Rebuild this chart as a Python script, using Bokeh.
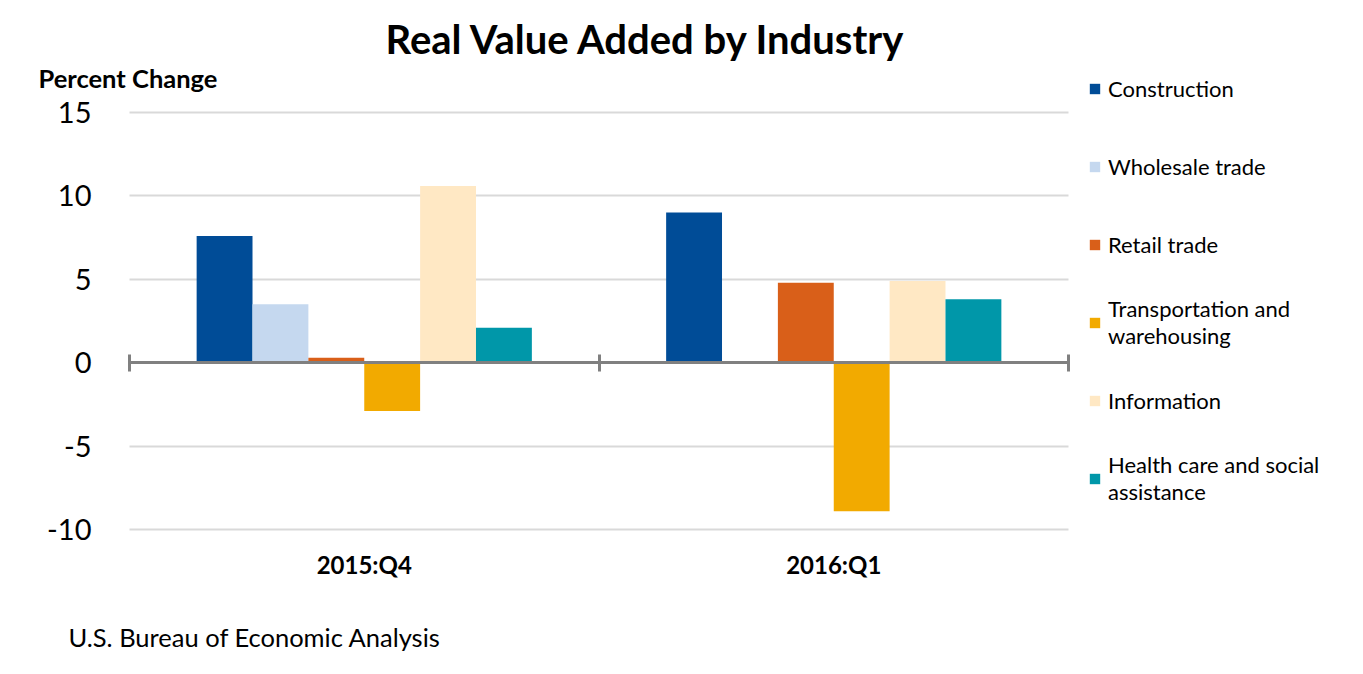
from bokeh.plotting import figure
from bokeh.models import (Range1d, LinearAxis, FixedTicker, Legend, Label, Grid)
from bokeh.transform import dodge
from bokeh.embed import file_html
from bokeh.resources import INLINE

# ---- data ----
quarters = ["2015:Q4", "2016:Q1"]
industries = ["Construction", "Wholesale trade", "Retail trade",
              "Transportation and\nwarehousing", "Information",
              "Health care and social\nassistance"]
construction = [7.6, 9.0]
wholesale_trade = [3.5, 0.0]
retail_trade = [0.3, 4.8]
transportation = [-2.9, -8.9]
information = [10.6, 4.9]
health_care = [2.1, 3.8]
y_ticks = [-10, -5, 0, 5, 10, 15]
y_tick_labels = ["-10", "-5", "0", "5", "10", "15"]

series = [construction, wholesale_trade, retail_trade, transportation, information, health_care]
colors = ["#004C97", "#C5D8EF", "#D95F19", "#F2AA00", "#FFE8C4", "#0097A9"]

FONT = "Lato"
W, H = 1363, 674

# plot-area geometry (pixels from the top-left of the page)
area_left, area_right, area_top, area_bottom = 129, 1068, 112, 529
y_min, y_max = y_ticks[0], y_ticks[-1]
n_cat = len(quarters)
px_per_x = (area_right - area_left) / n_cat
px_per_y = (area_bottom - area_top) / (y_max - y_min)

# the frame covers the whole page so that legend and texts are not clipped
x_range = Range1d(-area_left / px_per_x, n_cat + (W - area_right) / px_per_x)
y_range = Range1d(y_min - (H - area_bottom) / px_per_y, y_max + area_top / px_per_y)

cat_centers = [i + 0.5 for i in range(n_cat)]
cat_edges = list(range(n_cat + 1))

p = figure(width=W, height=H, x_range=x_range, y_range=y_range,
           output_backend="svg", toolbar_location=None, title=None,
           x_axis_location=None, y_axis_location=None, min_border=0,
           outline_line_color=None, background_fill_color="white",
           border_fill_color="white")
p.grid.visible = False

bar_w = 0.119
data = {"xc": cat_centers}
for i, s in enumerate(series):
    data[f"s{i}"] = s

renderers = []
for i, s in enumerate(series):
    off = (i - 2.5) * bar_w
    r = p.vbar(x=dodge("xc", off), top=f"s{i}", bottom=0,
               width=bar_w, source=data, fill_color=colors[i], line_color=None)
    renderers.append(r)

# horizontal gridlines limited to the plot area
p.add_layout(Grid(dimension=1, ticker=FixedTicker(ticks=y_ticks),
                  cross_bounds=(0, n_cat), grid_line_color="#D9D9D9",
                  grid_line_width=2))

# y axis
y_axis = LinearAxis(fixed_location=0, ticker=FixedTicker(ticks=y_ticks),
                    major_label_overrides={t: l for t, l in zip(y_ticks, y_tick_labels)},
                    axis_line_color=None, major_tick_line_color=None,
                    minor_tick_line_color=None, major_label_standoff=32,
                    major_label_text_font=FONT, major_label_text_font_size="29px",
                    major_label_text_color="black")
p.add_layout(y_axis, "left")

# category axis (labels at category centres, below the plot area)
cat_axis = LinearAxis(fixed_location=y_min, ticker=FixedTicker(ticks=cat_centers),
                      major_label_overrides={c: q for c, q in zip(cat_centers, quarters)},
                      axis_line_color=None, major_tick_line_color=None,
                      minor_tick_line_color=None, major_label_standoff=14,
                      major_label_text_font=FONT, major_label_text_font_size="24px",
                      major_label_text_font_style="bold", major_label_text_color="black")
p.add_layout(cat_axis, "below")

# zero axis with ticks at category boundaries
zero_axis = LinearAxis(fixed_location=0, bounds=(0, n_cat),
                       ticker=FixedTicker(ticks=cat_edges),
                       axis_line_color="#808080", axis_line_width=3,
                       major_tick_line_color="#808080", major_tick_line_width=3,
                       major_tick_in=8, major_tick_out=9,
                       minor_tick_line_color=None,
                       major_label_text_font_size="0px")
p.add_layout(zero_axis, "below")

# legend
legend = Legend(items=[(industries[i], [renderers[i]]) for i in range(len(industries))],
                location=(1088, 166), orientation="vertical",
                glyph_width=13, glyph_height=13, label_standoff=7,
                label_text_font=FONT, label_text_font_size="22px",
                label_text_color="black", label_text_line_height=1.36,
                label_height=60, spacing=18, padding=0, margin=0,
                border_line_color=None, background_fill_alpha=0)
p.add_layout(legend, "center")

# texts (screen units, y measured up from the bottom of the page)
p.add_layout(Label(x=385, y=H - 38, x_units="screen", y_units="screen",
                   text="Real Value Added by Industry", text_font=FONT,
                   text_font_size="40px", text_font_style="bold", text_color="black",
                   text_baseline="alphabetic"))
p.add_layout(Label(x=38, y=H - 77, x_units="screen", y_units="screen",
                   text="Percent Change", text_font=FONT, text_font_size="25.5px",
                   text_font_style="bold", text_color="black",
                   text_baseline="alphabetic"))
p.add_layout(Label(x=68, y=H - 636, x_units="screen", y_units="screen",
                   text="U.S. Bureau of Economic Analysis", text_font=FONT,
                   text_font_size="25.5px", text_color="black",
                   text_baseline="alphabetic"))

open("out.html", "w").write(file_html(p, INLINE))
